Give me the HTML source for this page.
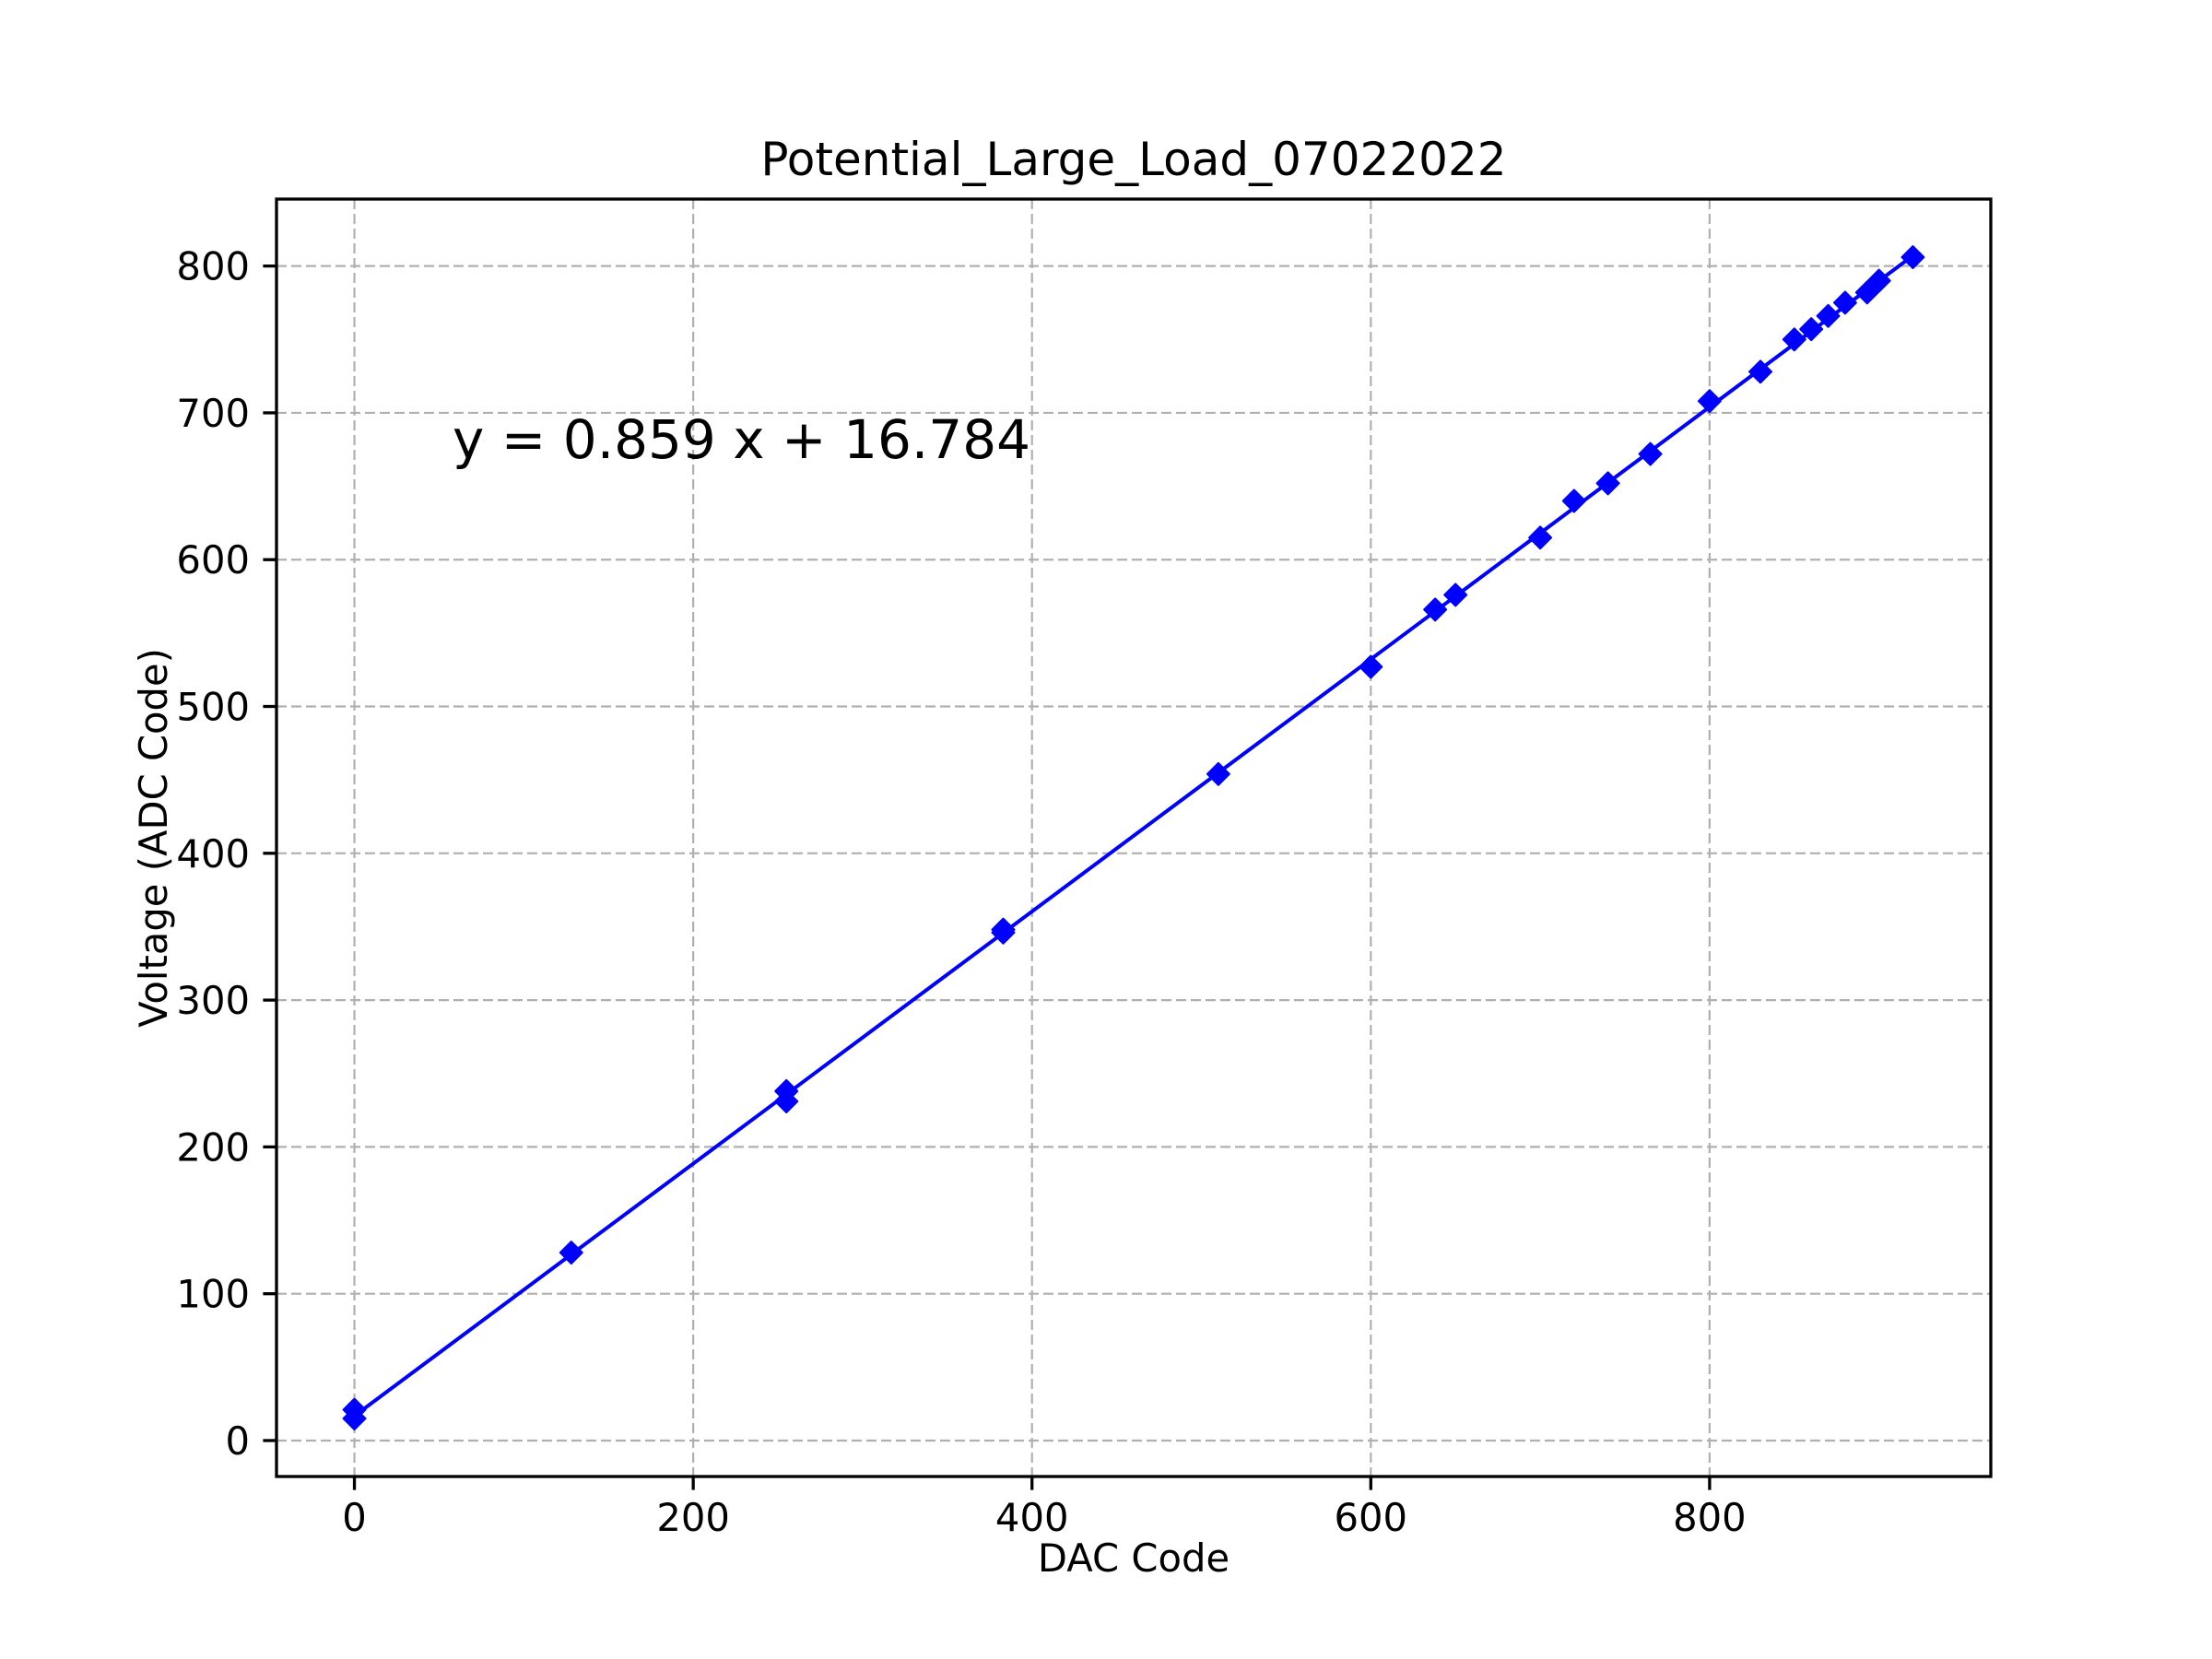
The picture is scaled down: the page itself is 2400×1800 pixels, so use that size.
<!DOCTYPE html>
<html><head><meta charset="utf-8"><style>
html,body{margin:0;padding:0;background:#fff;}
svg{display:block;font-family:"DejaVu Sans","Liberation Sans",sans-serif;}
</style></head><body>
<svg id="chart" width="2400" height="1800" viewBox="0 0 2400 1800" xmlns="http://www.w3.org/2000/svg">
<rect x="0" y="0" width="2400" height="1800" fill="#fff"/>
<g id="grid"></g>
<g id="series"></g>
<rect x="300" y="216" width="1860" height="1386" fill="none" stroke="#000" stroke-width="3.3"/>
<g id="ticks"></g>
<text x="1230" y="190" font-size="50" text-anchor="middle">Potential_Large_Load_07022022</text>
<text x="1230" y="1705" font-size="41.7" text-anchor="middle">DAC Code</text>
<text x="181" y="909" font-size="41.7" text-anchor="middle" transform="rotate(-90 181 909)">Voltage (ADC Code)</text>
<text x="491" y="497" font-size="58">y = 0.859 x + 16.784</text>
</svg>
<script>
const dacCodes = [0,0,128,255,255,383,383,510,600,638,650,700,720,740,765,800,830,850,860,870,880,893,900,920];
const adcCodes = [21,15,128,238,231,348,346,454,527,566,576,615,640,652,672,708,728,750,757,766,775,782,790,806];
const fitSlope = 0.859;
const fitIntercept = 16.784;
const xTicks = [0,200,400,600,800];
const yTicks = [0,100,200,300,400,500,600,700,800];

const L=300,R=2160,T=216,B=1602;
const xMin=-46,xMax=966,yMin=-24.5,yMax=845.6;
const NS="http://www.w3.org/2000/svg";
function sx(v){return L+(v-xMin)/(xMax-xMin)*(R-L);}
function sy(v){return B-(v-yMin)/(yMax-yMin)*(B-T);}
function mk(tag,attrs,parent){const e=document.createElementNS(NS,tag);for(const k in attrs)e.setAttribute(k,attrs[k]);parent.appendChild(e);return e;}
const grid=document.getElementById('grid'),ticks=document.getElementById('ticks'),series=document.getElementById('series');
xTicks.forEach(v=>{
  const x=sx(v);
  const g=mk('line',{x1:x,x2:x,y1:T,y2:B,stroke:'#b0b0b0','stroke-width':2.2,'stroke-dasharray':'11,5'},grid);
  
  
  const t=mk('line',{x1:x,x2:x,y1:B,y2:B+14.6,stroke:'#000','stroke-width':3.3},ticks);
  
  
  const l=mk('text',{x:x,y:1661,'font-size':41.7,'text-anchor':'middle'},ticks);
  l.textContent=v;
  
  
});
yTicks.forEach(v=>{
  const y=sy(v);
  const g=mk('line',{x1:L,x2:R,y1:y,y2:y,stroke:'#b0b0b0','stroke-width':2.2,'stroke-dasharray':'11,5'},grid);
  
  
  const t=mk('line',{x1:L-14.6,x2:L,y1:y,y2:y,stroke:'#000','stroke-width':3.3},ticks);
  
  
  const l=mk('text',{x:271,y:y+15,'font-size':41.7,'text-anchor':'end'},ticks);
  l.textContent=v;
  
  
});
const x0=Math.min(...dacCodes),x1=Math.max(...dacCodes);
const fl=mk('line',{x1:sx(x0),y1:sy(fitSlope*x0+fitIntercept),x2:sx(x1),y2:sy(fitSlope*x1+fitIntercept),stroke:'#0000ff','stroke-width':4},series);


dacCodes.forEach((d,i)=>{
  const x=sx(d),y=sy(adcCodes[i]),r=12;
  const p=mk('polygon',{points:`${x},${y-r} ${x+r},${y} ${x},${y+r} ${x-r},${y}`,fill:'#0000ff',stroke:'#0000ff','stroke-width':2,'stroke-linejoin':'round'},series);
  
  
});
</script>
</body></html>
